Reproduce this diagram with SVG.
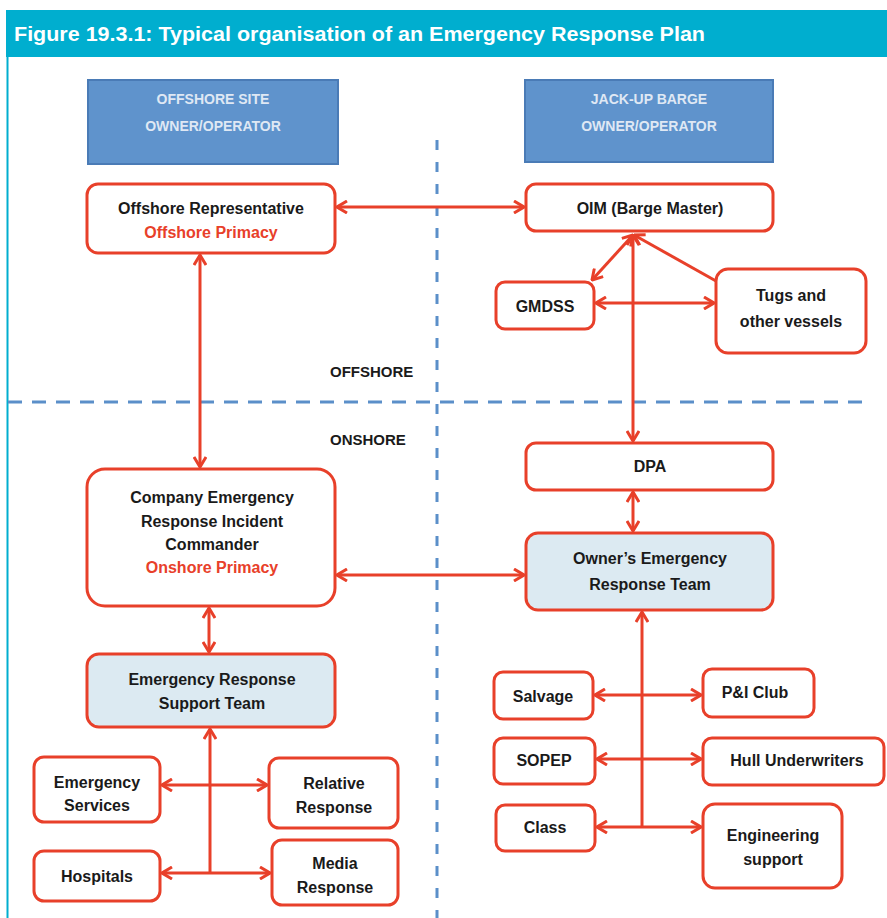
<svg xmlns="http://www.w3.org/2000/svg" width="887" height="918" viewBox="0 0 887 918">
  <style>
    .node rect { fill: #ffffff; stroke: #e8402a; stroke-width: 3; }
    .node.team rect { fill: #dceaf2; }
    .owner rect { fill: #5f93cc; stroke: #4a7bb6; stroke-width: 2; }
    .owner text { font-family: "Liberation Sans", Arial, sans-serif; font-size: 14px; font-weight: bold; fill: #dfe8f4; text-anchor: middle; }
    .node text { font-family: "Liberation Sans", Arial, sans-serif; font-size: 16px; font-weight: bold; fill: #1a1a1a; text-anchor: middle; }
    .node text.red { fill: #e8402a; }
    .zone { font-family: "Liberation Sans", Arial, sans-serif; font-size: 15px; font-weight: bold; fill: #1a1a1a; }
    .divider { stroke: #5b8fc9; stroke-width: 3; fill: none; }
    #connectors line { stroke: #e8402a; stroke-width: 3; fill: none; }
    .both { marker-start: url(#ah); marker-end: url(#ah); }
    .one { marker-end: url(#ah); }
  </style>
  <defs>
    <marker id="ah" viewBox="0 0 12 14" refX="11" refY="7" markerWidth="12" markerHeight="14" orient="auto-start-reverse" markerUnits="userSpaceOnUse">
      <path d="M1,1 L11,7 L1,13" fill="none" stroke="#e8402a" stroke-width="3"/>
    </marker>
  </defs>

  <rect x="0" y="0" width="887" height="918" fill="#ffffff"/>

  <!-- title bar and frame -->
  <g id="title">
    <rect x="6" y="10" width="881" height="47" fill="#00aecf"/>
    <line x1="7.5" y1="57" x2="7.5" y2="918" stroke="#00aecf" stroke-width="2"/>
    <text x="14" y="41" font-family="Liberation Sans, Arial, sans-serif" font-size="20" font-weight="bold" fill="#ffffff" textLength="691" lengthAdjust="spacingAndGlyphs">Figure 19.3.1: Typical organisation of an Emergency Response Plan</text>
  </g>

  <!-- zone dividers -->
  <g id="dividers">
    <line class="divider" x1="437" y1="140" x2="437" y2="918" stroke-dasharray="10 12"/>
    <line class="divider" x1="8" y1="402" x2="866" y2="402" stroke-dasharray="14 10"/>
    <text class="zone" x="330" y="377">OFFSHORE</text>
    <text class="zone" x="330" y="445">ONSHORE</text>
  </g>

  <!-- owner headers -->
  <g id="site-owner" class="owner">
    <rect x="88" y="80" width="250" height="84"/>
    <text x="213" y="104">OFFSHORE SITE</text>
    <text x="213" y="131">OWNER/OPERATOR</text>
  </g>
  <g id="barge-owner" class="owner">
    <rect x="525" y="80" width="248" height="82"/>
    <text x="649" y="104">JACK-UP BARGE</text>
    <text x="649" y="131">OWNER/OPERATOR</text>
  </g>

  <!-- connectors -->
  <g id="connectors">
    <line class="both" x1="337" y1="207" x2="524" y2="207"/>
    <line class="both" x1="200" y1="255" x2="200" y2="467"/>
    <line class="both" x1="633" y1="235" x2="592" y2="280"/>
    <line class="both" x1="633" y1="235" x2="633" y2="441"/>
    <line class="one" x1="716" y1="281" x2="634" y2="235"/>
    <line class="both" x1="596" y1="303" x2="714" y2="303"/>
    <line class="both" x1="633" y1="492" x2="633" y2="531"/>
    <line class="both" x1="337" y1="575" x2="524" y2="575"/>
    <line class="both" x1="209" y1="608" x2="209" y2="652"/>
    <line class="one" x1="210" y1="873" x2="210" y2="729"/>
    <line class="both" x1="162" y1="785" x2="267" y2="785"/>
    <line class="both" x1="162" y1="873" x2="270" y2="873"/>
    <line class="one" x1="642" y1="827" x2="642" y2="612"/>
    <line class="both" x1="595" y1="695" x2="701" y2="695"/>
    <line class="both" x1="597" y1="759" x2="701" y2="759"/>
    <line class="both" x1="597" y1="827" x2="701" y2="827"/>
  </g>

  <!-- offshore nodes -->
  <g id="offshore-rep" class="node">
    <rect x="87" y="184" width="248" height="69" rx="11"/>
    <text x="211" y="214">Offshore Representative</text>
    <text class="red" x="211" y="238">Offshore Primacy</text>
  </g>
  <g id="oim" class="node">
    <rect x="526" y="184" width="247" height="47" rx="10"/>
    <text x="650" y="214">OIM (Barge Master)</text>
  </g>
  <g id="gmdss" class="node">
    <rect x="496" y="282" width="98" height="47" rx="9"/>
    <text x="545" y="312">GMDSS</text>
  </g>
  <g id="tugs" class="node">
    <rect x="716" y="269" width="150" height="84" rx="12"/>
    <text x="791" y="301">Tugs and</text>
    <text x="791" y="327">other vessels</text>
  </g>

  <!-- onshore nodes -->
  <g id="dpa" class="node">
    <rect x="526" y="443" width="247" height="47" rx="10"/>
    <text x="650" y="472">DPA</text>
  </g>
  <g id="owners-ert" class="node team">
    <rect x="526" y="533" width="247" height="77" rx="12"/>
    <text x="650" y="564">Owner’s Emergency</text>
    <text x="650" y="590">Response Team</text>
  </g>
  <g id="company-erc" class="node">
    <rect x="87" y="469" width="248" height="137" rx="18"/>
    <text x="212" y="503">Company Emergency</text>
    <text x="212" y="527">Response Incident</text>
    <text x="212" y="550">Commander</text>
    <text class="red" x="212" y="573">Onshore Primacy</text>
  </g>
  <g id="erst" class="node team">
    <rect x="87" y="654" width="248" height="73" rx="12"/>
    <text x="212" y="685">Emergency Response</text>
    <text x="212" y="709">Support Team</text>
  </g>
  <g id="emergency-services" class="node">
    <rect x="34" y="757" width="126" height="65" rx="10"/>
    <text x="97" y="788">Emergency</text>
    <text x="97" y="811">Services</text>
  </g>
  <g id="relative-response" class="node">
    <rect x="269" y="758" width="129" height="70" rx="10"/>
    <text x="334" y="789">Relative</text>
    <text x="334" y="813">Response</text>
  </g>
  <g id="hospitals" class="node">
    <rect x="34" y="851" width="126" height="50" rx="10"/>
    <text x="97" y="882">Hospitals</text>
  </g>
  <g id="media-response" class="node">
    <rect x="272" y="840" width="126" height="65" rx="10"/>
    <text x="335" y="869">Media</text>
    <text x="335" y="893">Response</text>
  </g>
  <g id="salvage" class="node">
    <rect x="494" y="672" width="99" height="47" rx="9"/>
    <text x="543" y="702">Salvage</text>
  </g>
  <g id="pi-club" class="node">
    <rect x="703" y="669" width="111" height="48" rx="9"/>
    <text x="755" y="698">P&amp;I Club</text>
  </g>
  <g id="sopep" class="node">
    <rect x="494" y="738" width="101" height="46" rx="9"/>
    <text x="544" y="766">SOPEP</text>
  </g>
  <g id="hull-underwriters" class="node">
    <rect x="703" y="738" width="181" height="47" rx="9"/>
    <text x="797" y="766">Hull Underwriters</text>
  </g>
  <g id="class" class="node">
    <rect x="496" y="805" width="99" height="46" rx="9"/>
    <text x="545" y="833">Class</text>
  </g>
  <g id="engineering-support" class="node">
    <rect x="703" y="804" width="139" height="84" rx="12"/>
    <text x="773" y="841">Engineering</text>
    <text x="773" y="865">support</text>
  </g>
</svg>
